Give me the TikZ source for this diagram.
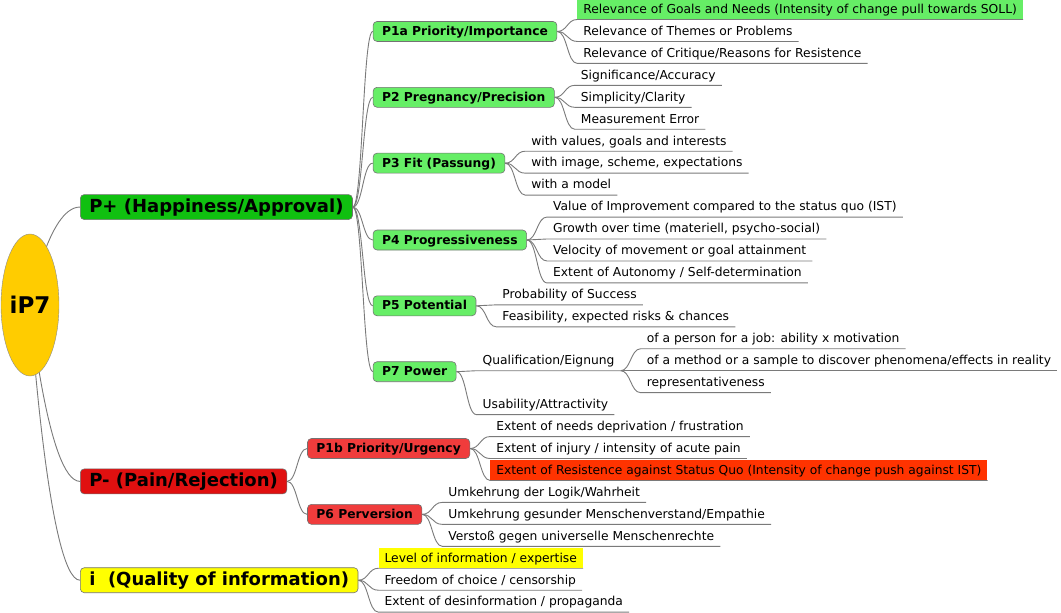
\documentclass[tikz,border=0pt]{standalone}
\usepackage{fontspec}
\setmainfont{DejaVu Sans}
\usetikzlibrary{shapes.geometric,backgrounds}

\definecolor{rootyellow}{HTML}{FFCC00}
\definecolor{plusgreen}{HTML}{10C010}
\definecolor{subgreen}{HTML}{66EE66}
\definecolor{minusred}{HTML}{E01010}
\definecolor{subred}{HTML}{F03C3C}
\definecolor{markred}{HTML}{FF3300}
\definecolor{infoyellow}{HTML}{FFFF00}
\definecolor{linkgray}{HTML}{7A7A7A}

\tikzset{
  link/.style={draw=linkgray, line width=0.9pt},
  mainbox/.style={draw=black!55, line width=0.6pt, rounded corners=4pt, anchor=west,
    font=\fontsize{18}{20}\selectfont\bfseries, inner xsep=9pt, inner ysep=0pt,
    minimum height=25pt, text height=14pt, text depth=3pt},
  subbox/.style={draw=black!55, line width=0.6pt, rounded corners=4pt, anchor=west, xshift=20pt,
    font=\fontsize{12.3}{14}\selectfont\bfseries, inner xsep=9pt, inner ysep=0pt,
    minimum height=20pt, text height=10pt, text depth=2pt},
  leaf/.style={anchor=south west, xshift=20pt, font=\fontsize{12.3}{14}\selectfont,
    inner xsep=6pt, inner ysep=0pt, minimum height=20pt, text height=10pt, text depth=2pt},
}

\begin{document}
\begin{tikzpicture}[x=1pt, y=-1pt]
\useasboundingbox (0,0) rectangle (1061,613);

\node[ellipse, draw=black!45, fill=rootyellow, minimum width=58pt, minimum height=142pt,
  inner sep=0pt, font=\fontsize{23}{26}\selectfont\bfseries] (root) at (30,305) {iP7};

% first level
\node[mainbox, fill=plusgreen] (pplus) at (80,207.05) {P+ (Happiness/Approval)};
\node[mainbox, fill=minusred] (pminus) at (80,481.4) {P- (Pain/Rejection)};
\node[mainbox, fill=infoyellow] (info) at (80,580.2) {i\ \ (Quality of information)};

% second level
\node[subbox, fill=subgreen] (p1a) at (pplus.east |- 0,31.45) {P1a Priority/Importance};
\node[subbox, fill=subgreen] (p2) at (pplus.east |- 0,97.3) {P2 Pregnancy/Precision};
\node[subbox, fill=subgreen] (p3) at (pplus.east |- 0,163.15) {P3 Fit (Passung)};
\node[subbox, fill=subgreen] (p4) at (pplus.east |- 0,240) {P4 Progressiveness};
\node[subbox, fill=subgreen] (p5) at (pplus.east |- 0,305.8) {P5 Potential};
\node[subbox, fill=subgreen] (p7) at (pplus.east |- 0,371.7) {P7 Power};
\node[subbox, fill=subred] (p1b) at (pminus.east |- 0,448.5) {P1b Priority/Urgency};
\node[subbox, fill=subred] (p6) at (pminus.east |- 0,514.35) {P6 Perversion};

% leaves
\node[leaf, fill=subgreen] (p1a-1) at (p1a.east |- 0,19.5) {Relevance of Goals and Needs (Intensity of change pull towards SOLL)};
\node[leaf] (p1a-2) at (p1a.east |- 0,41.45) {Relevance of Themes or Problems};
\node[leaf] (p1a-3) at (p1a.east |- 0,63.4) {Relevance of Critique/Reasons for Resistence};
\node[leaf] (p2-1) at (p2.east |- 0,85.35) {Significance/Accuracy};
\node[leaf] (p2-2) at (p2.east |- 0,107.3) {Simplicity/Clarity};
\node[leaf] (p2-3) at (p2.east |- 0,129.25) {Measurement Error};
\node[leaf] (p3-1) at (p3.east |- 0,151.2) {with values, goals and interests};
\node[leaf] (p3-2) at (p3.east |- 0,173.15) {with image, scheme, expectations};
\node[leaf] (p3-3) at (p3.east |- 0,195.1) {with a model};
\node[leaf] (p4-1) at (p4.east |- 0,217.05) {Value of Improvement compared to the status quo (IST)};
\node[leaf] (p4-2) at (p4.east |- 0,239) {Growth over time (materiell, psycho-social)};
\node[leaf] (p4-3) at (p4.east |- 0,260.95) {Velocity of movement or goal attainment};
\node[leaf] (p4-4) at (p4.east |- 0,282.9) {Extent of Autonomy / Self-determination};
\node[leaf] (p5-1) at (p5.east |- 0,304.85) {Probability of Success};
\node[leaf] (p5-2) at (p5.east |- 0,326.8) {Feasibility, expected risks \& chances};
\node[leaf] (qual) at (p7.east |- 0,370.7) {Qualification/Eignung};
\node[leaf] (qual-1) at (qual.south east |- 0,348.75) {of a person for a job: ability x motivation};
\node[leaf] (qual-2) at (qual.south east |- 0,370.7) {of a method or a sample to discover phenomena/effects in reality};
\node[leaf] (qual-3) at (qual.south east |- 0,392.65) {representativeness};
\node[leaf] (usab) at (p7.east |- 0,414.6) {Usability/Attractivity};
\node[leaf] (p1b-1) at (p1b.east |- 0,436.55) {Extent of needs deprivation / frustration};
\node[leaf] (p1b-2) at (p1b.east |- 0,458.5) {Extent of injury / intensity of acute pain};
\node[leaf, fill=markred] (p1b-3) at (p1b.east |- 0,480.45) {Extent of Resistence against Status Quo (Intensity of change push against IST)};
\node[leaf] (p6-1) at (p6.east |- 0,502.4) {Umkehrung der Logik/Wahrheit};
\node[leaf] (p6-2) at (p6.east |- 0,524.35) {Umkehrung gesunder Menschenverstand/Empathie};
\node[leaf] (p6-3) at (p6.east |- 0,546.3) {Verstoß gegen universelle Menschenrechte};
\node[leaf, fill=infoyellow] (info-1) at (info.east |- 0,568.25) {Level of information / expertise};
\node[leaf] (info-2) at (info.east |- 0,590.2) {Freedom of choice / censorship};
\node[leaf] (info-3) at (info.east |- 0,612.15) {Extent of desinformation / propaganda};

% connectors
\begin{scope}[on background layer]
\draw[link] (root.center) .. controls +(0,0) and +(-32,0) .. (pplus.west);
\draw[link] (root.center) .. controls +(0,0) and +(-32,0) .. (pminus.west);
\draw[link] (root.center) .. controls +(0,0) and +(-32,0) .. (info.west);

\draw[link] (pplus.east) .. controls +(10,0) and +(-10,0) .. (p1a.west);
\draw[link] (pplus.east) .. controls +(10,0) and +(-10,0) .. (p2.west);
\draw[link] (pplus.east) .. controls +(10,0) and +(-10,0) .. (p3.west);
\draw[link] (pplus.east) .. controls +(10,0) and +(-10,0) .. (p4.west);
\draw[link] (pplus.east) .. controls +(10,0) and +(-10,0) .. (p5.west);
\draw[link] (pplus.east) .. controls +(10,0) and +(-10,0) .. (p7.west);
\draw[link] (pminus.east) .. controls +(10,0) and +(-10,0) .. (p1b.west);
\draw[link] (pminus.east) .. controls +(10,0) and +(-10,0) .. (p6.west);

\draw[link] (p1a.east) .. controls +(10,0) and +(-10,0) .. (p1a-1.south west) -- (p1a-1.south east);
\draw[link] (p1a.east) .. controls +(10,0) and +(-10,0) .. (p1a-2.south west) -- (p1a-2.south east);
\draw[link] (p1a.east) .. controls +(10,0) and +(-10,0) .. (p1a-3.south west) -- (p1a-3.south east);
\draw[link] (p2.east) .. controls +(10,0) and +(-10,0) .. (p2-1.south west) -- (p2-1.south east);
\draw[link] (p2.east) .. controls +(10,0) and +(-10,0) .. (p2-2.south west) -- (p2-2.south east);
\draw[link] (p2.east) .. controls +(10,0) and +(-10,0) .. (p2-3.south west) -- (p2-3.south east);
\draw[link] (p3.east) .. controls +(10,0) and +(-10,0) .. (p3-1.south west) -- (p3-1.south east);
\draw[link] (p3.east) .. controls +(10,0) and +(-10,0) .. (p3-2.south west) -- (p3-2.south east);
\draw[link] (p3.east) .. controls +(10,0) and +(-10,0) .. (p3-3.south west) -- (p3-3.south east);
\draw[link] (p4.east) .. controls +(10,0) and +(-10,0) .. (p4-1.south west) -- (p4-1.south east);
\draw[link] (p4.east) .. controls +(10,0) and +(-10,0) .. (p4-2.south west) -- (p4-2.south east);
\draw[link] (p4.east) .. controls +(10,0) and +(-10,0) .. (p4-3.south west) -- (p4-3.south east);
\draw[link] (p4.east) .. controls +(10,0) and +(-10,0) .. (p4-4.south west) -- (p4-4.south east);
\draw[link] (p5.east) .. controls +(10,0) and +(-10,0) .. (p5-1.south west) -- (p5-1.south east);
\draw[link] (p5.east) .. controls +(10,0) and +(-10,0) .. (p5-2.south west) -- (p5-2.south east);
\draw[link] (p7.east) .. controls +(10,0) and +(-10,0) .. (qual.south west) -- (qual.south east);
\draw[link] (p7.east) .. controls +(10,0) and +(-10,0) .. (usab.south west) -- (usab.south east);
\draw[link] (qual.south east) .. controls +(10,0) and +(-10,0) .. (qual-1.south west) -- (qual-1.south east);
\draw[link] (qual.south east) .. controls +(10,0) and +(-10,0) .. (qual-2.south west) -- (qual-2.south east);
\draw[link] (qual.south east) .. controls +(10,0) and +(-10,0) .. (qual-3.south west) -- (qual-3.south east);
\draw[link] (p1b.east) .. controls +(10,0) and +(-10,0) .. (p1b-1.south west) -- (p1b-1.south east);
\draw[link] (p1b.east) .. controls +(10,0) and +(-10,0) .. (p1b-2.south west) -- (p1b-2.south east);
\draw[link] (p1b.east) .. controls +(10,0) and +(-10,0) .. (p1b-3.south west) -- (p1b-3.south east);
\draw[link] (p6.east) .. controls +(10,0) and +(-10,0) .. (p6-1.south west) -- (p6-1.south east);
\draw[link] (p6.east) .. controls +(10,0) and +(-10,0) .. (p6-2.south west) -- (p6-2.south east);
\draw[link] (p6.east) .. controls +(10,0) and +(-10,0) .. (p6-3.south west) -- (p6-3.south east);
\draw[link] (info.east) .. controls +(10,0) and +(-10,0) .. (info-1.south west) -- (info-1.south east);
\draw[link] (info.east) .. controls +(10,0) and +(-10,0) .. (info-2.south west) -- (info-2.south east);
\draw[link] (info.east) .. controls +(10,0) and +(-10,0) .. (info-3.south west) -- (info-3.south east);
\end{scope}
\end{tikzpicture}
\end{document}
